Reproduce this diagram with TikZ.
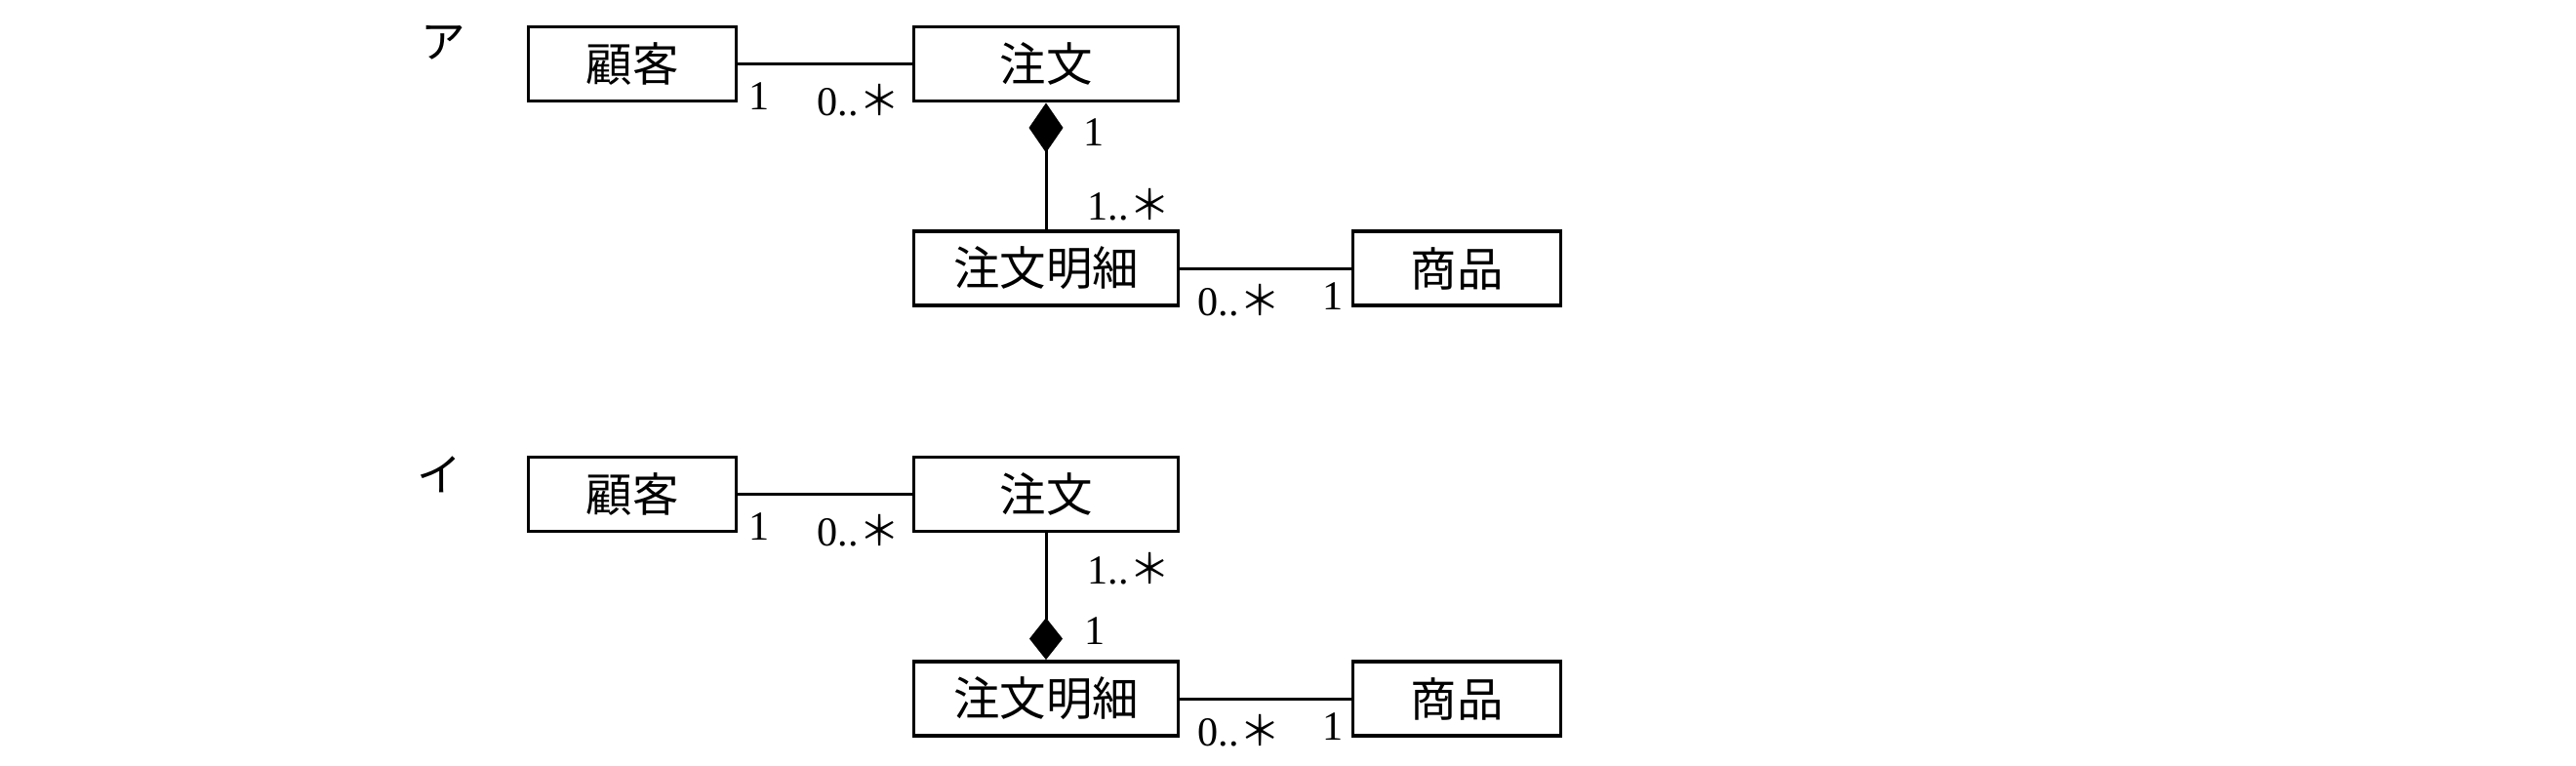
\documentclass[tikz,border=0pt]{standalone}
\usepackage{fontspec}
\setmainfont{Liberation Serif}
\newfontfamily\cjk{Noto Sans CJK JP}
\usetikzlibrary{arrows.meta}
\newcommand{\mstar}{{\cjk ＊}}
\begin{document}
\begin{tikzpicture}[
    % Styles
    cls/.style={draw, line width=1.1pt, minimum width=2.13cm, minimum height=0.76cm, inner sep=0pt, font=\cjk\fontsize{13.5}{16}\selectfont},
    wide/.style={cls, minimum width=2.71cm},
    mult/.style={font=\fontsize{12}{14}\selectfont, inner sep=0pt},
    tag/.style={font=\cjk\fontsize{13}{16}\selectfont, inner sep=0pt},
    assoc/.style={line width=0.85pt},
    comp-top/.style={assoc, {Diamond[length=5.1mm, width=3.5mm]}-},
    comp-bottom/.style={assoc, -{Diamond[length=4.3mm, width=3.4mm]}},
]
\useasboundingbox (0,0) rectangle (26.4,-7.84);

% ア: composition at the order side
\node[tag] (tagA) at (4.54,-0.44) {ア};
\node[cls] (custA) at (6.48,-0.655) {顧客};
\node[wide] (orderA) at (10.72,-0.655) {注文};
\node[wide] (lineA) at (10.72,-2.75) {注文明細};
\node[cls] (itemA) at (14.93,-2.75) {商品};

\draw[assoc] (custA) -- (orderA);
\draw[comp-top] (orderA) -- (lineA);
\draw[assoc] (lineA) -- (itemA);

\node[mult] (m1A) at (7.78,-0.99) {1};
\node[mult] (m2A) at (8.80,-1.03) {0..\mstar};
\node[mult] (m3A) at (11.21,-1.36) {1};
\node[mult] (m4A) at (11.57,-2.10) {1..\mstar};
\node[mult] (m5A) at (12.70,-3.08) {0..\mstar};
\node[mult] (m6A) at (13.66,-3.04) {1};

% イ: composition at the order-line side
\begin{scope}[yshift=-4.41cm]
    \node[tag] (tagB) at (4.50,-0.45) {イ};
    \node[cls] (custB) at (6.48,-0.655) {顧客};
    \node[wide] (orderB) at (10.72,-0.655) {注文};
    \node[wide] (lineB) at (10.72,-2.75) {注文明細};
    \node[cls] (itemB) at (14.93,-2.75) {商品};

    \draw[assoc] (custB) -- (orderB);
    \draw[comp-bottom] (orderB) -- (lineB);
    \draw[assoc] (lineB) -- (itemB);

    \node[mult] (m1B) at (7.78,-0.99) {1};
    \node[mult] (m2B) at (8.80,-1.03) {0..\mstar};
    \node[mult] (m3B) at (11.57,-1.42) {1..\mstar};
    \node[mult] (m4B) at (11.22,-2.06) {1};
    \node[mult] (m5B) at (12.70,-3.08) {0..\mstar};
    \node[mult] (m6B) at (13.66,-3.04) {1};
\end{scope}

\end{tikzpicture}
\end{document}
